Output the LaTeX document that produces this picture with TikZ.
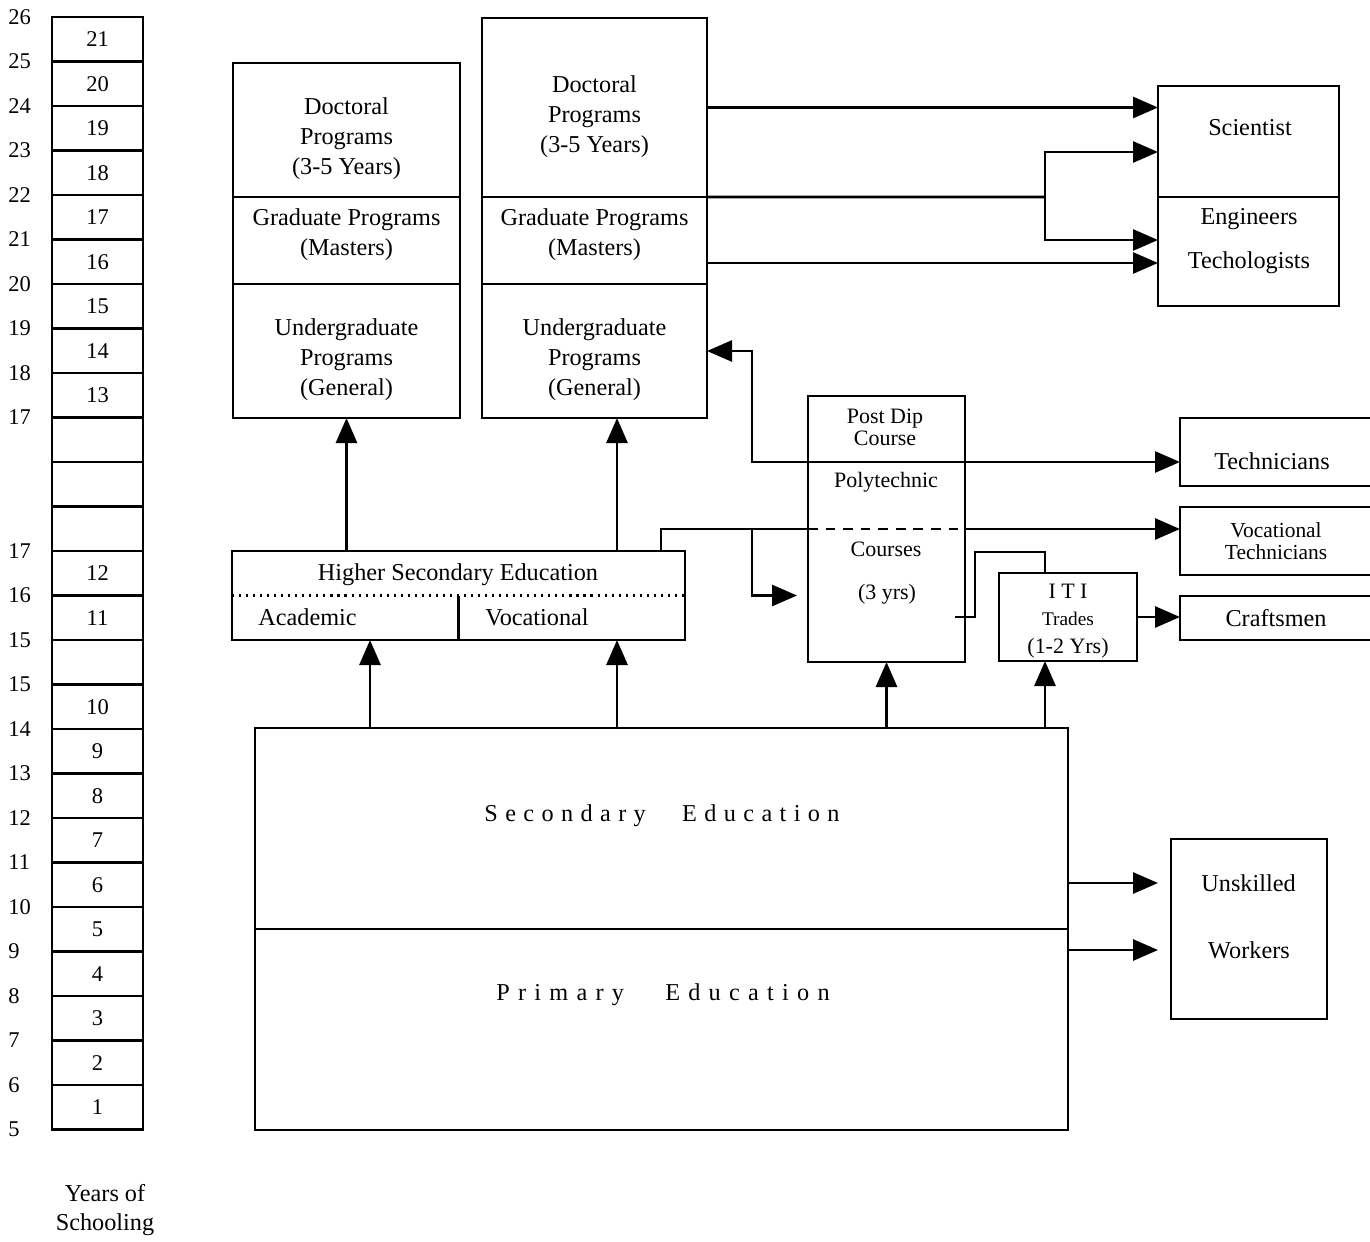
\documentclass[tikz,border=0pt]{standalone}
\usepackage{fontspec}
\setmainfont{Liberation Serif}
\usetikzlibrary{positioning, arrows.meta, calc}

\newcommand{\diagfont}{\fontsize{13.8}{17}\selectfont}
\newcommand{\polyfont}{\fontsize{12.5}{12.5}\selectfont}
\newcommand{\cellfont}{\fontsize{12.8}{14}\selectfont}

\begin{document}
\begin{tikzpicture}[
    box/.style={rectangle, draw, line width=1.6pt, inner sep=2pt, outer sep=0pt, align=center, font=\diagfont},
    txt/.style={inner sep=0pt, align=center, font=\diagfont},
    arrow/.style={-{Triangle[length=5mm, width=4.2mm]}, line width=1.6pt},
    twoway/.style={{Triangle[length=5mm, width=4.2mm]}-{Triangle[length=5mm, width=4.2mm]}, line width=1.6pt},
    link/.style={line width=1.6pt},
    dots/.style={line width=1.5pt, dash pattern=on 1.2pt off 2.8pt},
    dashes/.style={line width=1.6pt, dash pattern=on 5.5pt off 4.5pt},
]

% page frame
\useasboundingbox (0,0) rectangle (27.4,-24.82);
\clip (0,0) rectangle (27.4,-24.82);

% Years of schooling column
\foreach \lab [count=\i from 0] in {21,20,19,18,17,16,15,14,13,{},{},{},12,11,{},10,9,8,7,6,5,4,3,2,1}
  \node[box, font=\cellfont, minimum width=1.82cm, minimum height=0.89cm] (yr\i) at (1.95,{-0.34-0.89*(\i+0.5)}) {\lab};

% Age scale
\foreach \age [count=\j from 0] in {26,25,24,23,22,21,20,19,18,17,{},{},17,16,15,15,14,13,12,11,10,9,8,7,6,5}
  \node[txt, font=\cellfont, anchor=west] (age\j) at (0.16,{-0.34-0.89*\j}) {\age};

\node[txt] (yrslabel) at (2.1,-24.2) {Years of\\Schooling};

% Left university stack
\node[box, minimum width=4.54cm, minimum height=2.68cm] (doc1) at (6.93,-2.60) {};
\node[box, minimum width=4.54cm, minimum height=1.74cm, below=0pt of doc1] (grad1) {};
\node[box, minimum width=4.54cm, minimum height=2.68cm, below=0pt of grad1] (ug1) {};
\node[txt] (doc1txt) at (6.93,-2.78) {Doctoral\\Programs\\(3-5 Years)};
\node[txt] (grad1txt) at (6.93,-4.69) {Graduate Programs\\(Masters)};
\node[txt] (ug1txt) at (6.93,-7.20) {Undergraduate\\Programs\\(General)};

% Middle university stack
\node[box, minimum width=4.50cm, minimum height=3.58cm] (doc2) at (11.89,-2.15) {};
\node[box, minimum width=4.50cm, minimum height=1.74cm, below=0pt of doc2] (grad2) {};
\node[box, minimum width=4.50cm, minimum height=2.68cm, below=0pt of grad2] (ug2) {};
\node[txt] (doc2txt) at (11.89,-2.34) {Doctoral\\Programs\\(3-5 Years)};
\node[txt] (grad2txt) at (11.89,-4.69) {Graduate Programs\\(Masters)};
\node[txt] (ug2txt) at (11.89,-7.20) {Undergraduate\\Programs\\(General)};

% Higher secondary
\node[box, minimum width=9.06cm, minimum height=1.78cm] (hse) at (9.17,-11.91) {};
\node[txt] (hsetitle) at (9.16,-11.50) {Higher Secondary Education};
\draw[dots] (hse.west) -- (hse.east);
\draw[link] (hse.center) -- (hse.south);
\node[txt, anchor=west] (acad) at (5.16,-12.34) {Academic};
\node[txt, anchor=west] (voc) at (9.70,-12.34) {Vocational};

% Secondary and primary
\node[box, minimum width=16.26cm, minimum height=4.02cm] (sec) at (13.23,-16.57) {};
\node[box, minimum width=16.26cm, minimum height=4.02cm, below=0pt of sec] (prim) {};
\node[txt] (sectxt) at (13.24,-16.32) {\spaceskip=4.2pt S e c o n d a r y\hspace{1.5em}E d u c a t i o n};
\node[txt] (primtxt) at (13.26,-19.90) {\spaceskip=4.7pt P r i m a r y\hspace{1.7em}E d u c a t i o n};

% Polytechnic
\node[box, minimum width=3.14cm, minimum height=5.32cm] (poly) at (17.73,-10.58) {};
\node[txt, font=\polyfont] (postdip) at (17.70,-8.54) {Post Dip\\Course};
\node[txt, font=\polyfont] (polyA) at (17.72,-9.64) {Polytechnic};
\node[txt, font=\polyfont] (polyB) at (17.72,-10.98) {Courses};
\node[txt, font=\polyfont] (polyC) at (17.74,-11.88) {(3 yrs)};

% ITI
\node[box, minimum width=2.76cm, minimum height=1.76cm] (iti) at (21.36,-12.34) {};
\node[txt, font=\fontsize{12.5}{15.5}\selectfont] (ititxt) at (21.36,-12.42) {I T I\\{\fontsize{11}{15.5}\selectfont Trades}\\(1-2 Yrs)};

% Outcomes
\node[box, minimum width=3.62cm, minimum height=2.22cm] (sci) at (24.97,-2.83) {};
\node[box, minimum width=3.62cm, minimum height=2.18cm, below=0pt of sci] (eng) {};
\node[txt] (scitxt) at (25.0,-2.56) {Scientist};
\node[txt] (engA) at (24.98,-4.38) {Engineers};
\node[txt] (engB) at (24.98,-5.26) {Techologists};
\node[box, minimum width=3.84cm, minimum height=1.36cm] (techn) at (25.52,-9.04) {};
\node[txt] (techtxt) at (25.44,-9.22) {Technicians};
\node[box, font=\fontsize{12.2}{12.5}\selectfont, minimum width=3.84cm, minimum height=1.36cm] (vtech) at (25.52,-10.82) {Vocational\\Technicians};
\node[box, minimum width=3.84cm, minimum height=0.88cm] (craft) at (25.52,-12.36) {Craftsmen};
\node[box, minimum width=3.12cm, minimum height=3.60cm] (unsk) at (24.98,-18.58) {};
\node[txt] (unskA) at (24.97,-17.66) {Unskilled};
\node[txt] (unskB) at (24.98,-19.0) {Workers};

% Junction points
\coordinate (a1) at (7.40,0);
\coordinate (a2) at (12.34,0);
\coordinate (ix) at (20.90,0);
\coordinate (sj) at (20.90,-3.94);
\coordinate (tj) at (15.04,-9.24);
\coordinate (vj) at (13.22,-10.58);
\coordinate (ij) at (19.50,-11.04);
\coordinate (gout) at ($(grad2.east)+(0,-0.45)$);

% Upward flow
\draw[arrow] (sec.north -| a1) -- (hse.south -| a1);
\draw[arrow] (sec.north -| a2) -- (hse.south -| a2);
\draw[arrow] (hse.north -| a2) -- (ug2.south -| a2);
\draw[arrow] (hse.north -| ug1.south) -- (ug1.south);
\draw[arrow] (sec.north -| poly.south) -- (poly.south);
\draw[arrow] (sec.north -| ix) -- (iti.south -| ix);

% To scientists and engineers
\draw[arrow] (doc2.east) -- (sci.west |- doc2.east);
\draw[link] (doc2.south east) -- (sj);
\draw[arrow] (sj) |- ($(sci.south west)+(0,0.90)$);
\draw[arrow] (sj) |- ($(eng.north west)+(0,-0.86)$);
\draw[arrow] (gout) -- (eng.west |- gout);

% Technicians and vocational technicians
\draw[twoway] (ug2.east) -| (tj) -- (techn.west |- tj);
\draw[link] (hse.north -| vj) -- (vj) -- (poly.west |- vj);
\draw[dashes] (poly.west |- vj) -- (poly.east |- vj);
\draw[arrow] (poly.east |- vj) -- (vtech.west |- vj);
\draw[arrow, shorten >=0.22cm] (tj |- vj) |- (poly.west |- hse.center);

% ITI and craftsmen
\draw[link] ($(poly.east |- iti.center)+(-0.2,0)$) -| (ij) -| (iti.north -| ix);
\draw[arrow] (iti.east) -- (craft.west |- iti.east);

% Unskilled workers
\draw[arrow, shorten >=0.26cm] (sec.east |- unskA) -- (unsk.west |- unskA);
\draw[arrow, shorten >=0.26cm] (sec.east |- unskB) -- (unsk.west |- unskB);

\end{tikzpicture}
\end{document}
